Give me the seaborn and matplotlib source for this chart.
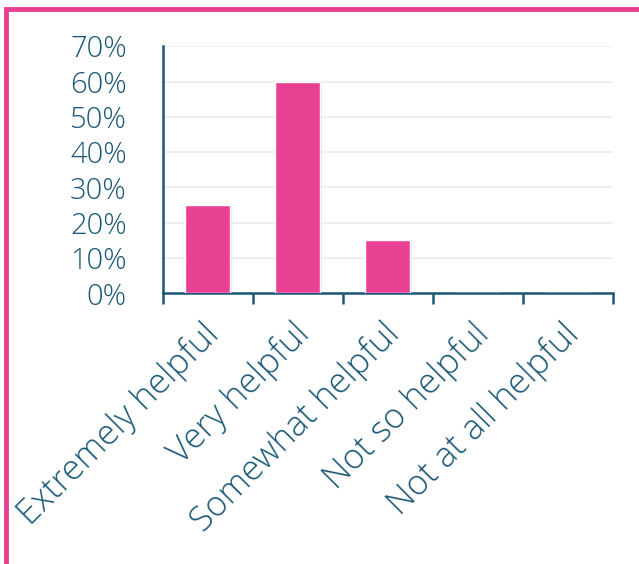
import numpy as np
import pandas as pd
import matplotlib.pyplot as plt
import matplotlib.patches as mpatches
import matplotlib.transforms as mtransforms
import seaborn as sns
from matplotlib.ticker import FixedLocator, PercentFormatter

# Dados do gráfico
categorias = ["Extremely helpful", "Very helpful", "Somewhat helpful",
              "Not so helpful", "Not at all helpful"]
percentuais = [25, 60, 15, 0, 0]

df = pd.DataFrame({"Resposta": categorias, "Percentual": percentuais})

cor_texto = "#1B5876"
cor_barra = "#E84093"

sns.set_theme(style="white")
plt.rcParams["font.family"] = ["Open Sans", "DejaVu Sans"]
plt.rcParams["font.weight"] = "light"

fig = plt.figure(figsize=(6.39, 5.64), dpi=100)
ax = fig.add_axes([0.255, 0.480, 0.704, 0.438])

# sombra leve atrás das barras
sns.barplot(data=df, x="Resposta", y="Percentual", color="#d8d8d8",
            width=0.52, ax=ax, zorder=2, saturation=1)
for p in ax.patches:
    p.set_x(p.get_x() + 0.01)
    p.set_alpha(0.6)
    p.set_linewidth(0)
sns.barplot(data=df, x="Resposta", y="Percentual", color=cor_barra,
            width=0.5, ax=ax, zorder=3, saturation=1)

ax.set_xlim(-0.5, 4.5)
ax.set_ylim(0, 70)
ax.set_yticks(np.arange(0, 71, 10))
ax.yaxis.set_major_formatter(PercentFormatter(decimals=0))
ax.grid(axis="y", color="#efefef", linewidth=1.5, zorder=0)
ax.set_axisbelow(True)

ax.set_xlabel("")
ax.set_ylabel("")
for s in ["top", "right"]:
    ax.spines[s].set_visible(False)
for s in ["left", "bottom"]:
    ax.spines[s].set_color(cor_texto)
    ax.spines[s].set_linewidth(1.8)

ax.tick_params(axis="y", length=0, labelsize=21, labelcolor=cor_texto, pad=26)
ax.xaxis.set_minor_locator(FixedLocator(np.arange(-0.5, 4.6, 1)))
ax.tick_params(axis="x", which="major", length=0, labelsize=25,
               labelcolor=cor_texto, pad=17)
ax.tick_params(axis="x", which="minor", length=8, width=1.8,
               color=cor_texto, direction="out", bottom=True)
desloc = mtransforms.ScaledTranslation(-6 / 100, 0, fig.dpi_scale_trans)
for rotulo in ax.get_xticklabels():
    rotulo.set_rotation(45)
    rotulo.set_ha("right")
    rotulo.set_va("top")
    rotulo.set_rotation_mode("anchor")
    rotulo.set_transform(rotulo.get_transform() + desloc)

# moldura rosa da figura
fig.patches.append(mpatches.Rectangle((6 / 639, -0.1), 1.2, 1 - 9 / 564 + 0.1,
                                      transform=fig.transFigure, fill=False,
                                      edgecolor=cor_barra, linewidth=3.5))

fig.savefig("out.png", dpi=100)
